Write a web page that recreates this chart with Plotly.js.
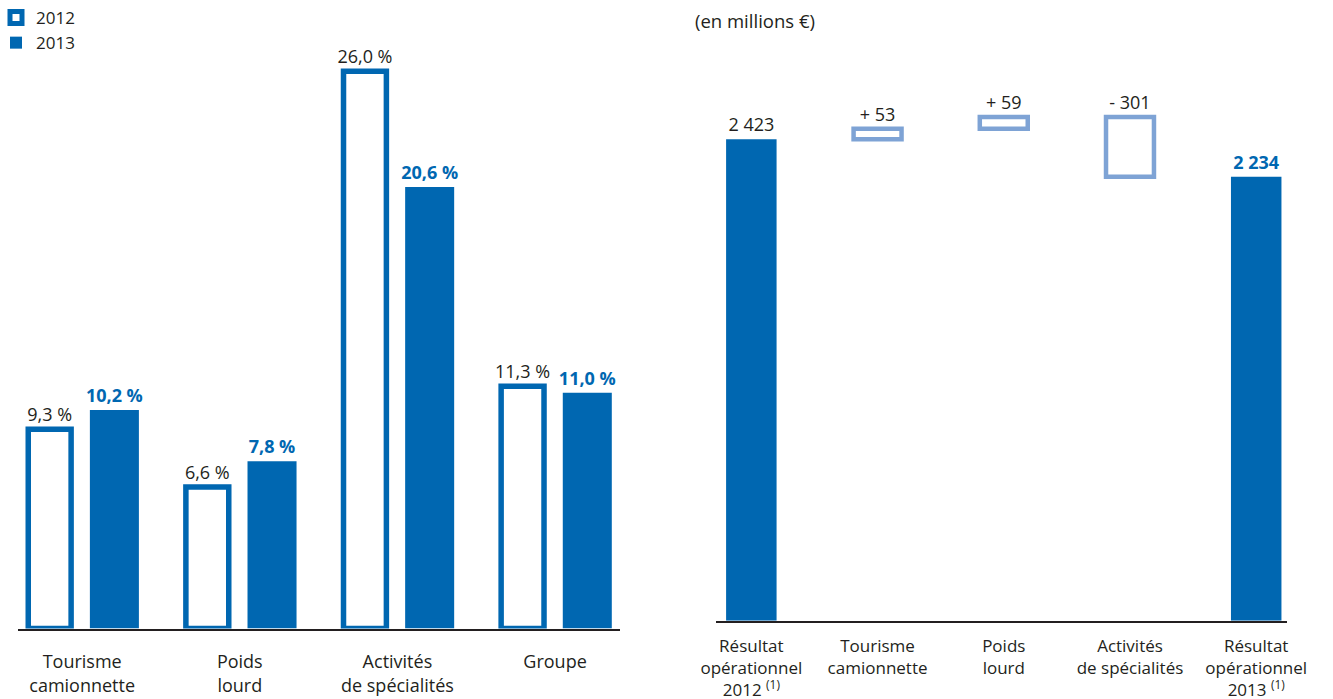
<!DOCTYPE html>
<html>
<head>
<meta charset="utf-8">
<script src="https://cdn.plot.ly/plotly-3.0.1.min.js"></script>
<style>
  html, body { margin: 0; padding: 0; background: #ffffff; }
  #chart { width: 1333px; height: 699px; }
</style>
</head>
<body>
<div id="chart"></div>
<script>
// ---- Left chart data (marge opérationnelle, %) ----
const segmentLabels = ['Tourisme<br>camionnette', 'Poids<br>lourd', 'Activités<br>de spécialités', 'Groupe'];
const margin2012 = [9.3, 6.6, 26.0, 11.3];
const margin2013 = [10.2, 7.8, 20.6, 11.0];
const seriesNames = ['2012', '2013'];

// ---- Right chart data (résultat opérationnel, millions €) ----
const bridgeLabels = [
  'Résultat<br>opérationnel<br>2012 <sup>(1)</sup>',
  'Tourisme<br>camionnette',
  'Poids<br>lourd',
  'Activités<br>de spécialités',
  'Résultat<br>opérationnel<br>2013 <sup>(1)</sup>'
];
const startValue = 2423;
const deltaValues = [53, 59, -301];
const endValue = 2234;
const unitNote = '(en millions €)';

const DARK = '#0067b1';
const LIGHT = '#7ea3d5';
const INK = '#231f20';
const FONT = 'Open Sans, sans-serif';

const pct = v => v.toFixed(1).replace('.', ',') + ' %';
const thousands = v => String(Math.abs(v)).replace(/\B(?=(\d{3})+(?!\d))/g, ' ');
const signed = v => (v >= 0 ? '+ ' : '- ') + thousands(v);

// bases for the bridge steps
const deltaBases = [];
const deltaHeights = [];
let running = startValue;
deltaValues.forEach(d => {
  const next = running + d;
  deltaBases.push(Math.min(running, next));
  deltaHeights.push(Math.abs(d));
  running = next;
});

const traces = [
  {
    type: 'bar', name: seriesNames[0], x: segmentLabels, y: margin2012,
    xaxis: 'x', yaxis: 'y',
    offset: -0.342, width: 0.272,
    marker: { color: '#ffffff', line: { color: DARK, width: 5.5 } },
    text: margin2012.map(pct), textposition: 'outside', constraintext: 'none',
    textfont: { family: FONT, size: 18, color: INK },
    hoverinfo: 'skip'
  },
  {
    type: 'bar', name: seriesNames[1], x: segmentLabels, y: margin2013,
    xaxis: 'x', yaxis: 'y',
    offset: 0.049, width: 0.311,
    marker: { color: DARK, line: { width: 0 } },
    text: margin2013.map(v => '<b>' + pct(v) + '</b>'), textposition: 'outside', constraintext: 'none',
    textfont: { family: FONT, size: 18, color: DARK },
    hoverinfo: 'skip'
  },
  {
    type: 'bar', showlegend: false,
    x: [bridgeLabels[0], bridgeLabels[4]], y: [startValue, endValue],
    xaxis: 'x2', yaxis: 'y2', width: 0.4,
    marker: { color: DARK, line: { width: 0 } },
    text: [thousands(startValue), '<b>' + thousands(endValue) + '</b>'],
    textposition: 'outside', constraintext: 'none',
    textfont: { family: FONT, size: 18, color: [INK, DARK] },
    hoverinfo: 'skip'
  },
  {
    type: 'bar', showlegend: false,
    x: bridgeLabels.slice(1, 4), y: deltaHeights, base: deltaBases,
    xaxis: 'x2', yaxis: 'y2', width: 0.38,
    marker: { color: '#ffffff', line: { color: LIGHT, width: 4.5 } },
    text: deltaValues.map(signed), textposition: 'outside', constraintext: 'none',
    textfont: { family: FONT, size: 18, color: INK },
    hoverinfo: 'skip'
  }
];

const layout = {
  width: 1333, height: 699, autosize: false,
  margin: { l: 0, r: 0, t: 0, b: 0, autoexpand: false },
  paper_bgcolor: '#ffffff', plot_bgcolor: 'rgba(0,0,0,0)',
  font: { family: FONT, color: INK },
  barmode: 'overlay',
  showlegend: true,
  legend: {
    x: -0.003, y: 1.0, xanchor: 'left', yanchor: 'top',
    font: { family: FONT, size: 17, color: INK },
    bgcolor: 'rgba(0,0,0,0)', traceorder: 'normal', tracegroupgap: 0
  },
  xaxis: {
    domain: [18 / 1333, 620 / 1333], type: 'category',
    categoryorder: 'array', categoryarray: segmentLabels,
    range: [-0.407, 3.412],
    showline: true, linecolor: INK, linewidth: 2,
    ticks: '', showgrid: false, zeroline: false,
    tickfont: { family: FONT, size: 18, color: INK },
    ticklabelstandoff: 16, fixedrange: true
  },
  yaxis: {
    domain: [(699 - 628.5) / 699, 1], range: [0, 29.33],
    visible: false, fixedrange: true
  },
  xaxis2: {
    domain: [716 / 1333, 1287 / 1333], anchor: 'y2', type: 'category',
    categoryorder: 'array', categoryarray: bridgeLabels,
    range: [-0.28, 4.244],
    showline: true, linecolor: INK, linewidth: 2,
    ticks: '', showgrid: false, zeroline: false,
    tickfont: { family: FONT, size: 17, color: INK },
    ticklabelstandoff: 9, fixedrange: true
  },
  yaxis2: {
    domain: [(699 - 620.7) / 699, 1], anchor: 'x2', range: [0, 3124],
    visible: false, fixedrange: true
  },
  annotations: [
    {
      xref: 'paper', yref: 'paper', x: 693 / 1333, y: 1 - 6 / 699,
      xanchor: 'left', yanchor: 'top', showarrow: false,
      text: unitNote, font: { family: FONT, size: 18.5, color: INK }
    }
  ]
};

Plotly.newPlot('chart', traces, layout, { displayModeBar: false, staticPlot: true });
</script>
</body>
</html>
